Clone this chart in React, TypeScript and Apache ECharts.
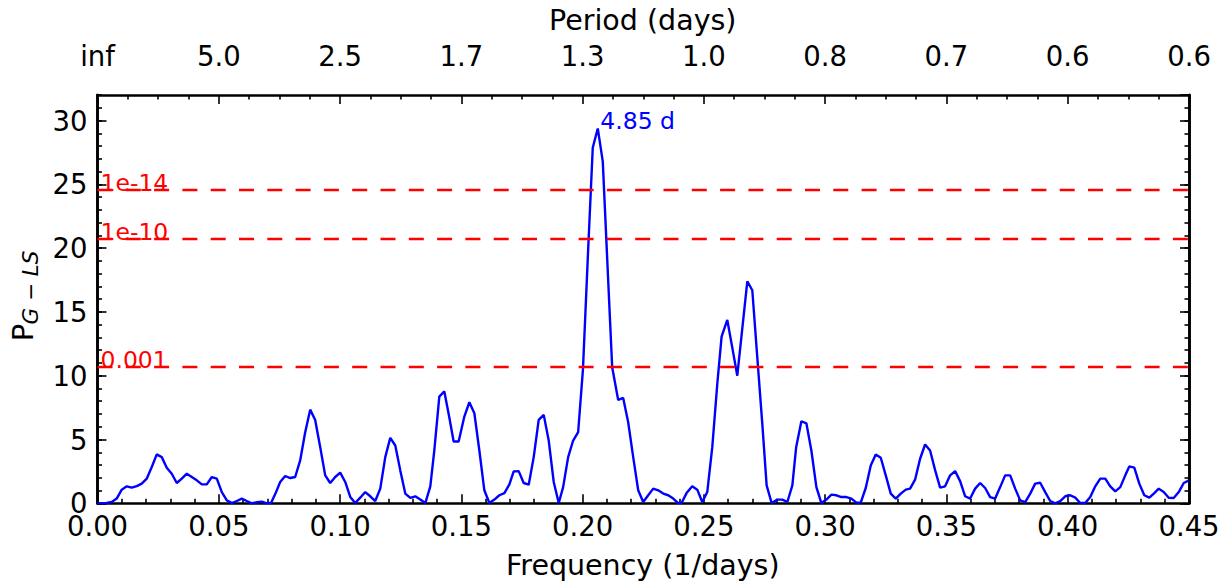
import React, { useEffect, useRef } from "react";
import * as echarts from "echarts";

const frequency = [
  0, 0.00173, 0.0038, 0.00586, 0.00792, 0.00999, 0.01205, 0.01411, 0.01618, 0.01824,
  0.0203, 0.02237, 0.02443, 0.02649, 0.02856, 0.03062, 0.03268, 0.03475, 0.03681, 0.03887,
  0.04094, 0.043, 0.04506, 0.04713, 0.04919, 0.05125, 0.05332, 0.05538, 0.05744, 0.05951,
  0.06157, 0.06363, 0.0657, 0.06776, 0.06982, 0.0716, 0.07345, 0.07531, 0.07737, 0.07944,
  0.0815, 0.08356, 0.08563, 0.08769, 0.08975, 0.09182, 0.09388, 0.09594, 0.09801, 0.10007,
  0.10213, 0.1042, 0.10626, 0.10832, 0.11039, 0.11245, 0.11451, 0.11658, 0.11864, 0.1207,
  0.12277, 0.12483, 0.12689, 0.12896, 0.13102, 0.13308, 0.13515, 0.13721, 0.13886, 0.14092,
  0.14299, 0.14517, 0.14683, 0.14889, 0.15124, 0.15331, 0.15537, 0.15743, 0.15949, 0.16156,
  0.16362, 0.16568, 0.16775, 0.16981, 0.17159, 0.17365, 0.17571, 0.17778, 0.17984, 0.1819,
  0.18397, 0.18603, 0.18809, 0.19016, 0.19197, 0.19404, 0.1961, 0.19816, 0.20014, 0.2022,
  0.20418, 0.20625, 0.20831, 0.21025, 0.21219, 0.21467, 0.21673, 0.21879, 0.22086, 0.22292,
  0.22498, 0.22705, 0.22911, 0.23117, 0.23324, 0.2353, 0.23736, 0.23943, 0.24079, 0.24285,
  0.2452, 0.24727, 0.24933, 0.25139, 0.25346, 0.25552, 0.2573, 0.25965, 0.26171, 0.26377,
  0.26584, 0.2679, 0.26996, 0.27203, 0.27409, 0.27587, 0.27793, 0.28028, 0.28234, 0.28441,
  0.28647, 0.28804, 0.29019, 0.29225, 0.29431, 0.29638, 0.29844, 0.3005, 0.30257, 0.30463,
  0.30669, 0.30876, 0.31082, 0.31288, 0.31466, 0.31673, 0.31879, 0.32085, 0.32292, 0.32498,
  0.32704, 0.32911, 0.33117, 0.33323, 0.33501, 0.33707, 0.33914, 0.3412, 0.34326, 0.34533,
  0.34739, 0.34945, 0.35152, 0.35358, 0.35564, 0.35771, 0.35977, 0.36183, 0.3639, 0.36596,
  0.36802, 0.37009, 0.37215, 0.37421, 0.37628, 0.37834, 0.3804, 0.38247, 0.38453, 0.38659,
  0.38866, 0.39072, 0.39278, 0.39485, 0.39691, 0.39897, 0.40104, 0.4031, 0.40516, 0.40723,
  0.40929, 0.41135, 0.41342, 0.41548, 0.41754, 0.41961, 0.42167, 0.42373, 0.42538, 0.42745,
  0.42951, 0.43157, 0.43364, 0.4357, 0.43751, 0.43958, 0.44164, 0.4437, 0.44577, 0.44783,
  0.45,
];

const power = [
  0, 0, 0.03, 0.1, 0.37, 1.07, 1.33, 1.23, 1.35, 1.54,
  1.93, 2.84, 3.83, 3.62, 2.79, 2.32, 1.59, 1.93, 2.32, 2.06,
  1.8, 1.48, 1.48, 2.06, 1.93, 0.88, 0.23, 0.02, 0.18, 0.37,
  0.18, 0.0, 0.08, 0.13, 0.0, 0.05, 0.8, 1.67, 2.14, 1.98,
  2.06, 3.36, 5.57, 7.34, 6.53, 4.4, 2.19, 1.59, 2.06, 2.4,
  1.67, 0.5, 0.02, 0.44, 0.88, 0.55, 0.18, 1.15, 3.62, 5.13,
  4.53, 2.58, 0.76, 0.42, 0.55, 0.29, 0.02, 1.33, 4.14, 8.36,
  8.77, 6.6, 4.84, 4.84, 6.8, 7.92, 7.06, 4.14, 1.02, 0.02,
  0.29, 0.63, 0.8, 1.48, 2.5, 2.52, 1.59, 1.46, 3.62, 6.54,
  6.93, 4.92, 1.67, 0.02, 1.27, 3.62, 4.92, 5.57, 10.5, 19.5,
  27.86, 29.38, 26.8, 18.7, 10.66, 8.1, 8.26, 6.35, 3.62, 1.02,
  0.1, 0.63, 1.15, 1.02, 0.76, 0.63, 0.37, 0.02, 0.02, 0.8,
  1.33, 1.07, 0.1, 0.88, 4.4, 9.35, 13.07, 14.37, 12.2, 10.0,
  13.7, 17.4, 16.7, 11.4, 6.2, 1.4, 0.02, 0.29, 0.29, 0.1,
  1.4, 4.4, 6.43, 6.27, 4.14, 1.27, 0.02, 0.29, 0.68, 0.63,
  0.49, 0.49, 0.37, 0.05, 0.05, 1.2, 2.97, 3.83, 3.57, 2.19,
  0.76, 0.37, 0.76, 1.07, 1.15, 1.85, 3.49, 4.61, 4.14, 2.6,
  1.23, 1.33, 2.19, 2.52, 1.74, 0.55, 0.37, 1.15, 1.59, 1.2,
  0.49, 0.37, 1.27, 2.19, 2.19, 1.15, 0.23, 0.1, 0.76, 1.54,
  1.61, 0.88, 0.18, 0, 0.18, 0.55, 0.63, 0.44, 0.02, 0.02,
  0.49, 1.33, 1.93, 1.93, 1.33, 0.94, 1.27, 2.19, 2.89, 2.79,
  1.54, 0.63, 0.44, 0.8, 1.15, 0.88, 0.44, 0.42, 0.88, 1.59,
  1.8,
];

const periodLabels = ["inf", "5.0", "2.5", "1.7", "1.3", "1.0", "0.8", "0.7", "0.6", "0.6"];
const thresholdLevels = [24.55, 20.75, 10.67];
const thresholdLabels = ["1e-14", "1e-10", "0.001"];
const peakFrequency = 0.20625;
const peakPower = 29.38;
const peakLabel = "4.85 d";

const FONT = "DejaVu Sans";
const BLACK = "#000000";

export default function App() {
  const ref = useRef<HTMLDivElement>(null);

  useEffect(() => {
    document.body.style.margin = "0";
    document.body.style.overflow = "hidden";
    if (!ref.current) return;
    const chart = echarts.init(ref.current, null, { renderer: "svg" });

    const tickStyle = { color: BLACK, width: 1.6 };
    const axisLineStyle = { color: BLACK, width: 2.6 };
    const labelStyle = { color: BLACK, fontSize: 27.5, fontFamily: FONT };

    const yBase = (position: string, interval: number, tickLen: number, showLabel: boolean) => ({
      type: "value",
      position,
      min: 0,
      max: 32,
      interval,
      axisLine: { show: true, onZero: false, lineStyle: axisLineStyle },
      axisTick: { show: true, inside: true, length: tickLen, lineStyle: tickStyle },
      axisLabel: showLabel
        ? { ...labelStyle, margin: 10, showMaxLabel: false, formatter: (v: number) => String(Math.round(v)) }
        : { show: false },
      splitLine: { show: false },
    });

    const option: any = {
      animation: false,
      backgroundColor: "#ffffff",
      grid: { left: 97.5, right: 40, top: 95, bottom: 77.7, containLabel: false },
      xAxis: [
        {
          type: "value",
          position: "bottom",
          min: 0,
          max: 0.45,
          interval: 0.05,
          axisLine: { show: true, onZero: false, lineStyle: axisLineStyle },
          axisTick: { show: true, inside: true, length: 9, lineStyle: tickStyle },
          minorTick: { show: true, splitNumber: 5, length: 4.5, lineStyle: tickStyle },
          splitLine: { show: false },
          minorSplitLine: { show: false },
          axisLabel: { ...labelStyle, margin: 9, formatter: (v: number) => v.toFixed(2) },
        },
        {
          type: "value",
          position: "top",
          min: 0,
          max: 0.45,
          interval: 0.05,
          axisLine: { show: true, onZero: false, lineStyle: axisLineStyle },
          axisTick: { show: true, inside: true, length: 9, lineStyle: tickStyle },
          minorTick: { show: true, splitNumber: 4, length: 4.5, lineStyle: tickStyle },
          splitLine: { show: false },
          minorSplitLine: { show: false },
          axisLabel: {
            ...labelStyle,
            margin: 25,
            formatter: (v: number) => periodLabels[Math.round(v / 0.05)] ?? "",
          },
        },
      ],
      yAxis: [
        yBase("left", 5, 9, true),
        yBase("left", 1, 4.5, false),
        yBase("right", 5, 9, false),
        yBase("right", 1, 4.5, false),
      ],
      series: [
        {
          type: "line",
          xAxisIndex: 0,
          yAxisIndex: 0,
          data: frequency.map((f, i) => [f, power[i]]),
          symbol: "none",
          showSymbol: false,
          lineStyle: { color: "#0000ff", width: 2.4 },
          itemStyle: { color: "#0000ff" },
          markLine: {
            silent: true,
            symbol: ["none", "none"],
            lineStyle: { color: "#ff0000", width: 2.4, type: [15, 13.3] },
            label: {
              show: true,
              position: "insideStartTop",
              color: "#ff0000",
              fontSize: 23.5,
              fontFamily: FONT,
              distance: [3, -5],
            },
            data: thresholdLevels.map((lv, i) => ({
              yAxis: lv,
              label: { formatter: thresholdLabels[i] },
            })),
          },
          markPoint: {
            silent: true,
            symbol: "circle",
            symbolSize: 1,
            itemStyle: { color: "rgba(0,0,0,0)" },
            label: {
              show: true,
              position: [3, 5],
              align: "left",
              verticalAlign: "bottom",
              color: "#0000ff",
              fontSize: 23.5,
              fontFamily: FONT,
              formatter: peakLabel,
            },
            data: [{ coord: [peakFrequency, peakPower] }],
          },
        },
      ],
      graphic: [
        {
          type: "text",
          x: 642.75,
          y: 20,
          style: { text: "Period (days)", fontSize: 28.5, fontFamily: FONT, fill: BLACK, align: "center", verticalAlign: "middle" },
        },
        {
          type: "text",
          x: 642.75,
          y: 565,
          style: { text: "Frequency (1/days)", fontSize: 28.5, fontFamily: FONT, fill: BLACK, align: "center", verticalAlign: "middle" },
        },
        {
          type: "text",
          x: 23,
          y: 332.5,
          rotation: Math.PI / 2,
          style: { text: "P", fontSize: 29, fontFamily: FONT, fill: BLACK, align: "center", verticalAlign: "middle" },
        },
        {
          type: "text",
          x: 30,
          y: 287.5,
          rotation: Math.PI / 2,
          style: { text: "G \u2212 LS", fontSize: 21.5, fontStyle: "italic", fontFamily: FONT, fill: BLACK, align: "center", verticalAlign: "middle" },
        },
      ],
    };

    chart.setOption(option);
    return () => chart.dispose();
  }, []);

  return <div ref={ref} style={{ width: 1229, height: 581 }} />;
}
